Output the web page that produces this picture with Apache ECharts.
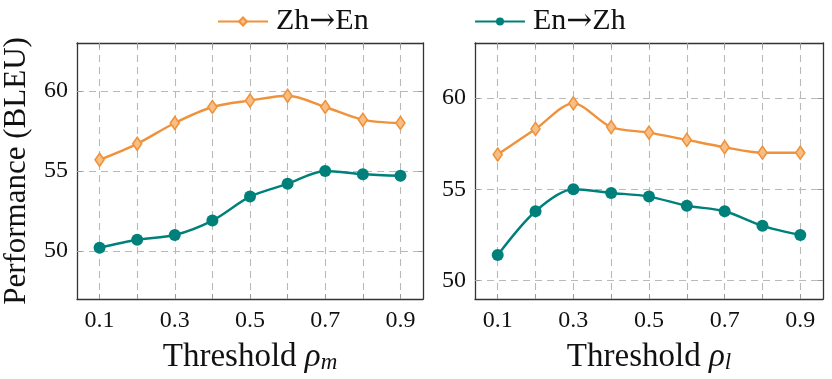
<!DOCTYPE html>
<html>
<head>
<meta charset="utf-8">
<script src="https://cdn.jsdelivr.net/npm/echarts@6/dist/echarts.min.js"></script>
<style>
html,body{margin:0;padding:0;background:#fff;}
#chart{width:832px;height:379px;}
</style>
</head>
<body>
<div id="chart"></div>
<script>
// ---- data ----
const thresholds = [0.1, 0.2, 0.3, 0.4, 0.5, 0.6, 0.7, 0.8, 0.9];
const xTickLabels = [0.1, 0.3, 0.5, 0.7, 0.9];
const yTicks = [50, 55, 60];
const seriesNames = ['Zh\u2192En', 'En\u2192Zh'];
const leftZhEn = [55.7, 56.7, 58.0, 59.0, 59.4, 59.7, 59.0, 58.2, 58.0];
const leftEnZh = [50.2, 50.7, 51.0, 51.9, 53.4, 54.2, 55.0, 54.8, 54.7];
const rightZhEn = [56.9, 58.3, 59.7, 58.4, 58.1, 57.7, 57.3, 57.0, 57.0];
const rightEnZh = [51.4, 53.8, 55.0, 54.8, 54.6, 54.1, 53.8, 53.0, 52.5];
const yTitle = 'Performance (BLEU)';
const xTitleLeft = ['Threshold ', '\u03C1', 'm'];
const xTitleRight = ['Threshold ', '\u03C1', 'l'];

// ---- style ----
const FONT = 'Liberation Serif';
const ARROWFONT = 'DejaVu Serif';
const ORANGE = '#F0923B';
const TEAL = '#00807A';
const FRAME = '#333333';
const GRIDC = '#b9b9b9';

const chart = echarts.init(document.getElementById('chart'), null, {renderer: 'canvas'});

function pair(arr) { return thresholds.map((t, i) => [t, arr[i]]); }

function xAxisDef(gridIndex, title, isTop) {
  return {
    type: 'value', gridIndex: gridIndex, min: 0.04, max: 0.96,
    position: isTop ? 'top' : 'bottom',
    axisLine: {show: true, onZero: false, lineStyle: {color: FRAME, width: 1.3}},
    axisTick: {show: true, inside: true, length: 5, customValues: thresholds,
               lineStyle: {color: '#999', width: 1}},
    axisLabel: {show: !isTop, customValues: xTickLabels, margin: 10,
                formatter: v => Number(v).toFixed(1),
                fontFamily: FONT, fontSize: 24, color: '#111'},
    splitLine: {show: !isTop, lineStyle: {color: GRIDC, type: [7, 5], width: 1.1}},
    name: isTop ? '' : '{a|' + title[0] + '}{b|' + title[1] + '}{c|' + title[2] + '}',
    nameLocation: 'middle', nameGap: 37,
    nameTextStyle: {
      fontFamily: FONT, color: '#111',
      rich: {
        a: {fontFamily: FONT, fontSize: 33, lineHeight: 38, color: '#111', verticalAlign: 'bottom'},
        b: {fontFamily: FONT, fontSize: 33, lineHeight: 38, fontStyle: 'italic', color: '#111', verticalAlign: 'bottom'},
        c: {fontFamily: FONT, fontSize: 23, lineHeight: 17, fontStyle: 'italic', color: '#111', verticalAlign: 'bottom'}
      }
    }
  };
}

function yAxisDef(gridIndex, min, max, isRight, withName) {
  return {
    type: 'value', gridIndex: gridIndex, min: min, max: max,
    position: isRight ? 'right' : 'left',
    axisLine: {show: true, onZero: false, lineStyle: {color: FRAME, width: 1.3}},
    axisTick: {show: true, inside: true, length: 5, customValues: yTicks,
               lineStyle: {color: '#999', width: 1}},
    axisLabel: {show: !isRight, customValues: yTicks, margin: 9,
                fontFamily: FONT, fontSize: 24, color: '#111'},
    splitLine: {show: !isRight, lineStyle: {color: GRIDC, type: [7, 5], width: 1.1}},
    name: withName ? yTitle : '',
    nameLocation: 'middle', nameGap: 45, nameRotate: 90,
    nameTextStyle: {fontFamily: FONT, fontSize: 31, color: '#111'}
  };
}

function lineSeries(name, data, xi, yi) {
  const isZh = name === seriesNames[0];
  return {
    name: name, type: 'line', xAxisIndex: xi, yAxisIndex: yi,
    data: data, smooth: 0.3,
    symbol: isZh ? 'diamond' : 'circle',
    symbolSize: isZh ? [9, 13] : 12,
    showSymbol: true,
    lineStyle: {color: isZh ? ORANGE : TEAL, width: 2.4},
    itemStyle: isZh ? {color: '#f7be85', borderColor: ORANGE, borderWidth: 1.6}
                    : {color: TEAL, borderColor: TEAL, borderWidth: 0},
    z: isZh ? 3 : 2,
    animation: false
  };
}

function legendDef(name, left) {
  return {
    data: [name], left: left, top: 1, itemWidth: 50, itemHeight: 10,
    formatter: n => n.replace('\u2192', '{ar|\u2192}'),
    textStyle: {fontFamily: FONT, fontSize: 30, lineHeight: 30, color: '#111', padding: [0, 0, 0, 3],
                rich: {ar: {fontFamily: ARROWFONT, fontSize: 31, lineHeight: 30, color: '#111'}}}
  };
}

const option = {
  animation: false,
  backgroundColor: '#ffffff',
  textStyle: {fontFamily: FONT},
  legend: [legendDef(seriesNames[0], 212), legendDef(seriesNames[1], 469)],
  grid: [
    {left: 77, right: 409, top: 43, bottom: 76, containLabel: false},
    {left: 475, right: 9, top: 43, bottom: 76, containLabel: false}
  ],
  xAxis: [
    xAxisDef(0, xTitleLeft, false),
    xAxisDef(0, xTitleLeft, true),
    xAxisDef(1, xTitleRight, false),
    xAxisDef(1, xTitleRight, true)
  ],
  yAxis: [
    yAxisDef(0, 47, 63, false, true),
    yAxisDef(0, 47, 63, true, false),
    yAxisDef(1, 49, 63, false, false),
    yAxisDef(1, 49, 63, true, false)
  ],
  series: [
    lineSeries(seriesNames[0], pair(leftZhEn), 0, 0),
    lineSeries(seriesNames[1], pair(leftEnZh), 0, 0),
    lineSeries(seriesNames[0], pair(rightZhEn), 2, 2),
    lineSeries(seriesNames[1], pair(rightEnZh), 2, 2)
  ]
};
chart.setOption(option);
</script>
</body>
</html>
